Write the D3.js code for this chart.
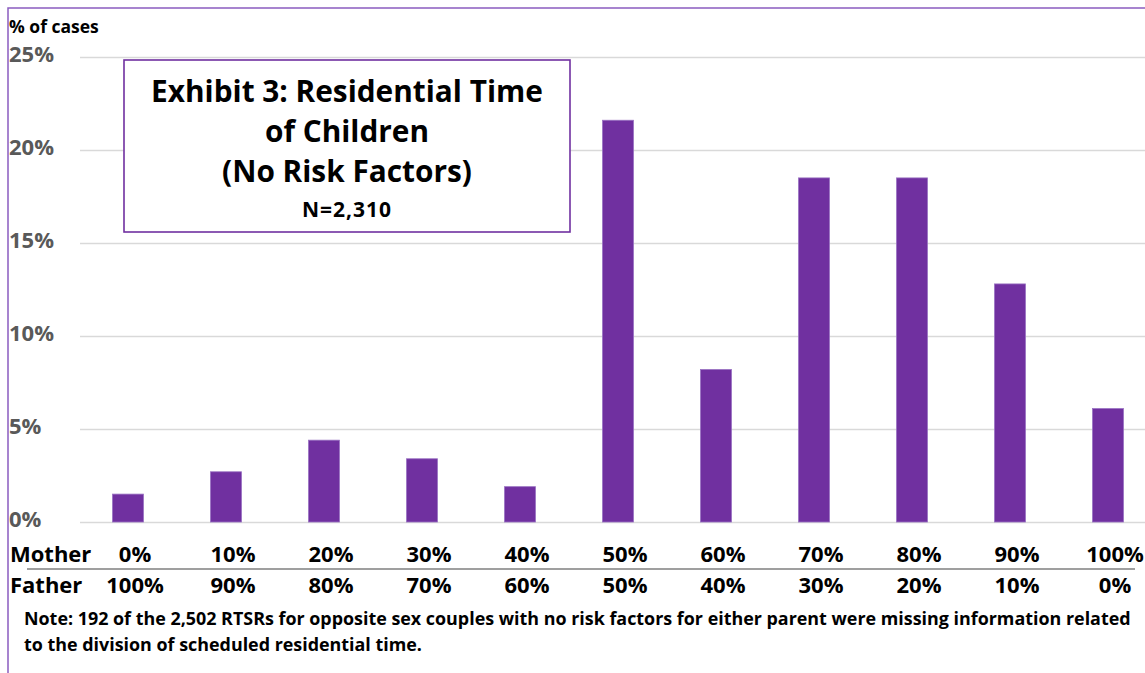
<!DOCTYPE html>
<html>
<head>
<meta charset="utf-8">
<script src="https://cdn.jsdelivr.net/npm/d3@7.9.0/dist/d3.min.js"></script>
<style>
  body { margin: 0; background: #fff; }
  svg { display: block; font-family: "Open Sans", Lato, sans-serif; font-weight: bold; }
</style>
</head>
<body>
<svg id="chart" width="1145" height="673"></svg>
<script>
// mother's share of residential time (category), and the matching father share
const categories = ["0%", "10%", "20%", "30%", "40%", "50%", "60%", "70%", "80%", "90%", "100%"];
const motherLabels = ["0%", "10%", "20%", "30%", "40%", "50%", "60%", "70%", "80%", "90%", "100%"];
const fatherLabels = ["100%", "90%", "80%", "70%", "60%", "50%", "40%", "30%", "20%", "10%", "0%"];
// % of cases
const shares = [1.5, 2.7, 4.4, 3.4, 1.9, 21.6, 8.2, 18.5, 18.5, 12.8, 6.1];
const yTicks = [0, 5, 10, 15, 20, 25];

const titleLines = ["Exhibit 3: Residential Time", "of Children", "(No Risk Factors)"];
const subtitle = "N=2,310";
const noteLines = [
  "Note: 192 of the 2,502 RTSRs for opposite sex couples with no risk factors for either parent were missing information related",
  "to the division of scheduled residential time."
];

const purple = "#7030A0";
const svg = d3.select("#chart");

// outer frame (only left + top visible in the crop)
svg.append("path")
  .attr("d", "M8,673 L8,8 L1145,8")
  .attr("fill", "none")
  .attr("stroke", "#8A5CC0")
  .attr("stroke-width", 1.5);

const x = d3.scaleBand()
  .domain(categories)
  .range([79, 1157])
  .paddingInner(0.684)
  .paddingOuter(0.342);

const y = d3.scaleLinear()
  .domain([0, 25])
  .range([522, 57]);

// gridlines + y labels
const yAxis = svg.append("g")
  .attr("transform", "translate(80,0)")
  .call(d3.axisLeft(y).tickValues(yTicks).tickSize(-1070).tickFormat(d => d + "%"));
yAxis.select(".domain").remove();
yAxis.selectAll(".tick line").attr("stroke", "#D9D9D9").attr("stroke-width", 1.3);
yAxis.selectAll(".tick text")
  .attr("x", -71)
  .attr("dy", "0.22em")
  .attr("text-anchor", "start")
  .attr("fill", "#595959")
  .style("font-size", "22px")
  .style("font-family", "'Open Sans', sans-serif")
  .style("font-weight", "bold");

svg.append("text")
  .attr("x", 9).attr("y", 33)
  .attr("font-size", 17.5)
  .attr("fill", "#000")
  .text("% of cases");

// bars
svg.append("g")
  .selectAll("rect")
  .data(shares)
  .join("rect")
  .attr("x", (d, i) => x(categories[i]))
  .attr("y", d => y(d))
  .attr("width", x.bandwidth())
  .attr("height", d => y(0) - y(d))
  .attr("fill", purple)
  .attr("stroke", "#9A72C2")
  .attr("stroke-width", 0.8);

// title box
svg.append("rect")
  .attr("x", 124).attr("y", 60)
  .attr("width", 446).attr("height", 172)
  .attr("fill", "#fff")
  .attr("stroke", purple)
  .attr("stroke-width", 1.6);

svg.append("g")
  .selectAll("text")
  .data(titleLines)
  .join("text")
  .attr("x", 347)
  .attr("y", (d, i) => 102 + i * 40)
  .attr("text-anchor", "middle")
  .attr("font-size", 29.8)
  .attr("fill", "#000")
  .text(d => d);

svg.append("text")
  .attr("x", 347).attr("y", 217)
  .attr("text-anchor", "middle")
  .attr("font-size", 21)
  .attr("letter-spacing", 1)
  .attr("fill", "#000")
  .text(subtitle);

// category labels under the axis
const labelX = c => x(c) + x.bandwidth() / 2 + 7;

svg.append("text")
  .attr("x", 10).attr("y", 562)
  .attr("font-size", 22)
  .text("Mother");
svg.append("text")
  .attr("x", 10).attr("y", 593)
  .attr("font-size", 22)
  .text("Father");

svg.append("g")
  .selectAll("text")
  .data(motherLabels)
  .join("text")
  .attr("x", (d, i) => labelX(categories[i]))
  .attr("y", 562)
  .attr("text-anchor", "middle")
  .attr("font-size", 22)
  .text(d => d);

svg.append("g")
  .selectAll("text")
  .data(fatherLabels)
  .join("text")
  .attr("x", (d, i) => labelX(categories[i]))
  .attr("y", 593)
  .attr("text-anchor", "middle")
  .attr("font-size", 22)
  .text(d => d);

svg.append("line")
  .attr("x1", 27).attr("x2", 1135)
  .attr("y1", 569).attr("y2", 569)
  .attr("stroke", "#404040")
  .attr("stroke-width", 1.2);

// note
svg.append("g")
  .selectAll("text")
  .data(noteLines)
  .join("text")
  .attr("x", 24)
  .attr("y", (d, i) => 625 + i * 26)
  .attr("font-size", 17.9)
  .text(d => d);
</script>
</body>
</html>
